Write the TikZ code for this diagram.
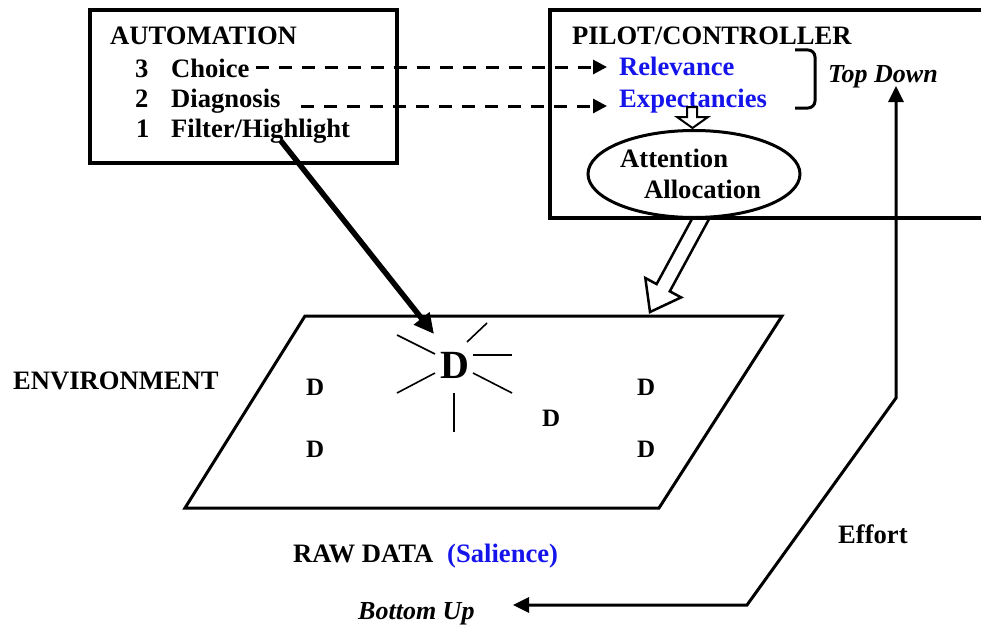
\documentclass[tikz,border=0pt]{standalone}
\usepackage{fontspec}
\setmainfont{Liberation Serif}
\usetikzlibrary{arrows.meta,shapes.geometric,calc}
\definecolor{cueblue}{RGB}{20,20,235}
\tikzset{
  lbl/.style={anchor=base west,inner sep=0pt,font=\fontsize{26.6}{30}\selectfont\bfseries},
  lblit/.style={lbl,font=\fontsize{26}{30}\selectfont\bfseries\itshape},
  cue/.style={lbl,text=cueblue},
  frame/.style={line width=3.5pt},
  dasharrow/.style={line width=3pt,dash pattern=on 13pt off 10pt,
    -{Triangle[length=14pt,width=14pt]}},
  flowarrow/.style={line width=3pt,{Triangle[length=16pt,width=15pt]}-{Triangle[length=16pt,width=15pt]}},
  boldarrow/.style={line width=5.5pt,-{Triangle[length=20pt,width=19pt]}},
  hollow/.style={line width=2.5pt,line join=miter,fill=white},
  ray/.style={line width=1.6pt},
  datum/.style={lbl,font=\fontsize{25}{30}\selectfont\bfseries}
}
\begin{document}
\begin{tikzpicture}[x=1pt,y=-1pt]
\useasboundingbox (0,0) rectangle (981,626);

% wide hollow arrow from attention allocation down to the data field
\draw[hollow] (692.5,218) -- (656.6,284.1) -- (645.3,278.0) -- (650,312)
  -- (681.1,297.4) -- (669.8,291.3) -- (709.6,218);

% automation box
\draw[frame] (90,10) rectangle (397,163);
\node[lbl] (auto) at (110,45) {AUTOMATION};
\node[lbl] (n3) at (135,77) {3};
\node[lbl] (choice) at (171,77) {Choice};
\node[lbl] (n2) at (135,107) {2};
\node[lbl] (diag) at (171,107) {Diagnosis};
\node[lbl] (n1) at (136,137) {1};
\node[lbl] (filter) at (171,137) {Filter/Highlight};

% pilot/controller box (open to the right)
\draw[frame] (981,10) -- (550,10) -- (550,218) -- (981,218);
\node[lbl] (pilot) at (572,45) {PILOT/CONTROLLER};
\node[cue] (relev) at (619,75) {Relevance};
\node[cue] (expect) at (619,107) {Expectancies};
\draw[line width=3pt,rounded corners=7pt] (795,50) -- (815,50) -- (815,108) -- (795,108);
\node[lblit] (topdown) at (828,82) {Top Down};

% small hollow arrow into the ellipse
\draw[line width=2pt,line join=miter] (687,107) -- (697,107) -- (697,117) -- (708,117)
  -- (692.5,128) -- (677,117) -- (687,117) -- cycle;

% attention allocation
\node[ellipse,draw,line width=3pt,fill=white,minimum width=212pt,minimum height=87pt,inner sep=0pt]
  (attn) at (694,174) {};
\node[lbl] (attn1) at (620,167) {Attention};
\node[lbl] (attn2) at (644,198) {Allocation};

% dashed links from automation stages to pilot expectations
\draw[dasharrow] ($(choice.base east)+(6,-10)$) -- ($(relev.base west)+(-12,-8)$);
\draw[dasharrow] ($(diag.base east)+(20,-1)$) -- ($(expect.base west)+(-12,-1)$);

% environment (raw data field)
\draw[line width=3pt,line join=miter] (305,316) -- (782,316) -- (659,508) -- (185,508) -- cycle;
\node[lbl] (env) at (13,389) {ENVIRONMENT};

\node[lbl,font=\fontsize{40}{44}\selectfont\bfseries] (bigd) at (440,378) {D};
\draw[ray] (397,335) -- (435,354);
\draw[ray] (467,342) -- (487,323);
\draw[ray] (473,355) -- (512,355);
\draw[ray] (473,373) -- (512,393);
\draw[ray] (397,393) -- (435,373);
\draw[ray] (454,393) -- (454,432);

\node[datum] (d1) at (306,395) {D};
\node[datum] (d2) at (306,457) {D};
\node[datum] (d3) at (542,426) {D};
\node[datum] (d4) at (637,395) {D};
\node[datum] (d5) at (637,457) {D};

% filter/highlight acts directly on one datum
\coordinate (fstart) at (281,141);
\coordinate (ftip) at (434,334);
\draw[boldarrow] (fstart) -- (ftip);

\node[lbl] (raw) at (293,562) {RAW DATA};
\node[cue] (sal) at (447,562) {(Salience)};
\node[lblit] (bottomup) at (358,619) {Bottom Up};
\node[lbl] (effort) at (838,543) {Effort};

% effort path between bottom-up and top-down control
\coordinate (butip) at (513,605);
\coordinate (bend1) at (747,605);
\coordinate (bend2) at (896,398);
\coordinate (tdtip) at (896,86);
\draw[flowarrow,line join=miter] (butip) -- (bend1) -- (bend2) -- (tdtip);
\end{tikzpicture}
\end{document}
